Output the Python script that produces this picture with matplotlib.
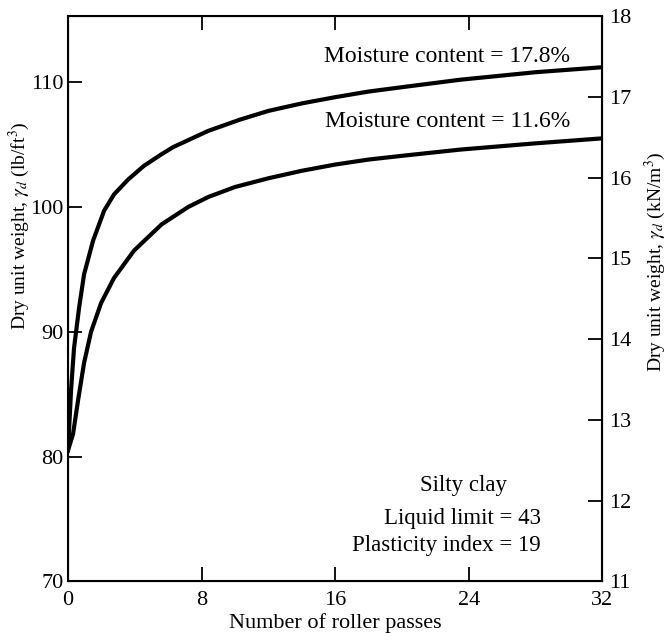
import matplotlib
matplotlib.use("Agg")
import matplotlib.pyplot as plt

# 数据: 碾压遍数 vs 干重度 (lb/ft3)
passes_178 = [0.0, 0.18, 0.36, 0.66, 0.96, 1.5, 2.16, 2.75, 3.6, 4.55, 5.57, 6.3, 8.4, 10.3, 12, 14, 16, 18, 20,
              23.5, 28, 32]
gamma_178 = [80.5, 85.3, 88.7, 91.9, 94.6, 97.3, 99.7, 101.0, 102.2, 103.3, 104.2, 104.8, 106.1, 107.0, 107.7,
             108.3, 108.8, 109.25, 109.6, 110.2, 110.8, 111.2]

passes_116 = [0.0, 0.3, 0.6, 0.96, 1.38, 1.98, 2.75, 3.95, 5.6, 7.2, 8.4, 10, 12, 14, 16, 18, 20, 23.5, 28, 32]
gamma_116 = [80.5, 81.8, 84.5, 87.5, 90.0, 92.3, 94.3, 96.5, 98.6, 100.0, 100.8, 101.6, 102.3,
             102.9, 103.4, 103.8, 104.1, 104.6, 105.1, 105.5]

x_ticks = [0, 8, 16, 24, 32]
lb_ticks = [70, 80, 90, 100, 110]
kn_ticks = [11, 12, 13, 14, 15, 16, 17, 18]

plt.rcParams['font.family'] = ['Liberation Serif', 'DejaVu Serif']
plt.rcParams['mathtext.fontset'] = 'stix'

fig = plt.figure(figsize=(6.67, 6.43), dpi=100)
ax = fig.add_axes([0.102, 0.096, 0.801, 0.879])

ax.plot(passes_178, gamma_178, color='black', lw=3, solid_joinstyle='round')
ax.plot(passes_116, gamma_116, color='black', lw=3, solid_joinstyle='round')

ax.set_xlim(0, 32)
ax.set_ylim(70, 115.3)
ax.set_xticks(x_ticks)
ax.set_yticks(lb_ticks)
ax.tick_params(direction='in', length=10, width=1.3, labelsize=16, top=True, pad=3)
ax.tick_params(axis='x', pad=7)
for s in ax.spines.values():
    s.set_linewidth(1.5)

ax.set_xlabel('Number of roller passes', fontsize=16, labelpad=2)
ax.set_ylabel(r'Dry unit weight, $\gamma_d$ (lb/ft$^3$)', fontsize=14)
ax.yaxis.set_label_coords(-0.068, 0.63)

# 右轴 kN/m3，按原图刻度 11~18
ax2 = ax.twinx()
ax2.set_ylim(11, 18)
ax2.set_yticks(kn_ticks)
ax2.tick_params(direction='in', length=10, width=1.3, labelsize=16, pad=5)
ax2.set_ylabel(r'Dry unit weight, $\gamma_d$ (kN/m$^3$)', fontsize=14)
ax2.yaxis.set_label_coords(1.075, 0.566)

ax.text(0.94, 0.928, 'Moisture content = 17.8%', transform=ax.transAxes,
        ha='right', va='center', fontsize=17)
ax.text(0.94, 0.813, 'Moisture content = 11.6%', transform=ax.transAxes,
        ha='right', va='center', fontsize=17)
ax.text(0.74, 0.169, 'Silty clay', transform=ax.transAxes,
        ha='center', va='center', fontsize=16.5)
ax.text(0.885, 0.111, 'Liquid limit = 43', transform=ax.transAxes,
        ha='right', va='center', fontsize=16.5)
ax.text(0.885, 0.063, 'Plasticity index = 19', transform=ax.transAxes,
        ha='right', va='center', fontsize=16.5)

fig.savefig('out.png', dpi=100)
